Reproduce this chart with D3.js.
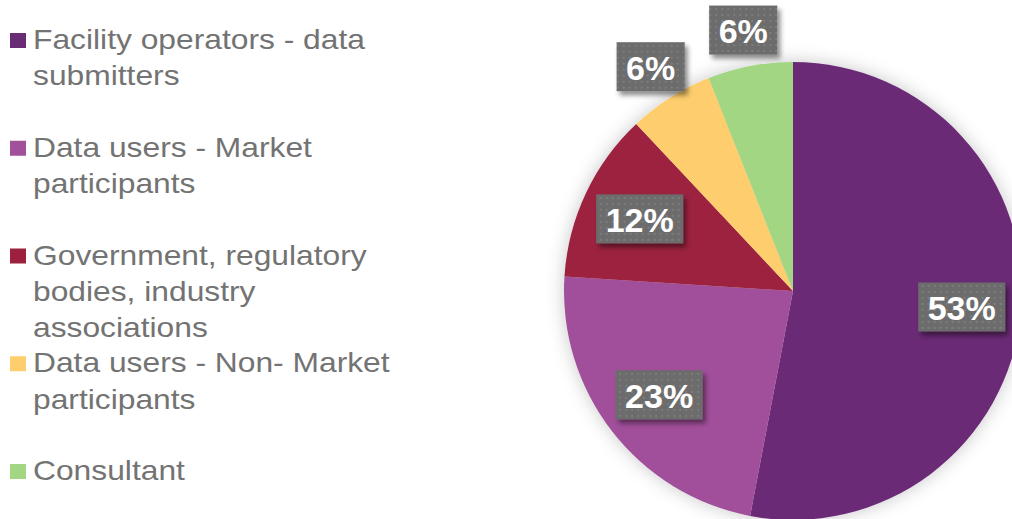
<!DOCTYPE html>
<html>
<head>
<meta charset="utf-8">
<script src="https://cdn.jsdelivr.net/npm/d3@7"></script>
<style>
  body { margin: 0; background: #fff; }
  svg { display: block; }
</style>
</head>
<body>
<div id="chart"></div>
<script>
const categories = [
  'Facility operators - data submitters',
  'Data users - Market participants',
  'Government, regulatory bodies, industry associations',
  'Data users - Non- Market participants',
  'Consultant'
];
// legend text as it wraps in the original
const legendLines = [
  ['Facility operators - data', 'submitters'],
  ['Data users - Market', 'participants'],
  ['Government, regulatory', 'bodies, industry', 'associations'],
  ['Data users - Non- Market', 'participants'],
  ['Consultant']
];
const shares = [53, 23, 12, 6, 6];
const colours = ['#6a2c75', '#a1509a', '#9c2141', '#fdcd6e', '#a2d683'];

const w = 1012, h = 519;
const cx = 793, cy = 291, radius = 229;

const data = categories.map((c, i) => ({ label: c, value: shares[i], lines: legendLines[i] }));

const svg = d3.select('#chart')
  .append('svg')
  .attr('width', w)
  .attr('height', h);

const defs = svg.append('defs');

const glow = defs.append('filter')
  .attr('id', 'glow')
  .attr('x', '-20%').attr('y', '-20%')
  .attr('width', '140%').attr('height', '140%');
glow.append('feDropShadow')
  .attr('dx', 0).attr('dy', 0)
  .attr('stdDeviation', 9)
  .attr('flood-color', '#000')
  .attr('flood-opacity', 0.22);

const boxShadow = defs.append('filter')
  .attr('id', 'boxShadow')
  .attr('x', '-20%').attr('y', '-20%')
  .attr('width', '150%').attr('height', '160%');
boxShadow.append('feDropShadow')
  .attr('dx', 3).attr('dy', 4)
  .attr('stdDeviation', 2.5)
  .attr('flood-color', '#000')
  .attr('flood-opacity', 0.45);

const dots = defs.append('pattern')
  .attr('id', 'dots')
  .attr('patternUnits', 'userSpaceOnUse')
  .attr('width', 6).attr('height', 6);
dots.append('rect')
  .attr('width', 6).attr('height', 6)
  .attr('fill', '#6c6c6c');
dots.append('rect')
  .attr('x', 2).attr('y', 2)
  .attr('width', 2).attr('height', 2)
  .attr('fill', '#7c7c7c');

// pie
const pie = d3.pie()
  .sort(null)
  .value(d => d.value);

const arc = d3.arc()
  .innerRadius(0)
  .outerRadius(radius);

const arcs = pie(data);

const g = svg.append('g')
  .attr('transform', `translate(${cx}, ${cy})`);

g.append('g')
  .attr('filter', 'url(#glow)')
  .selectAll('path')
  .data(arcs)
  .join('path')
  .attr('d', arc)
  .attr('fill', (d, i) => colours[i]);

// data labels: inside for big slices, outside for small ones
const inArc = d3.arc().innerRadius(radius * 0.74).outerRadius(radius * 0.74);
const outArc = d3.arc().innerRadius(radius * 1.16).outerRadius(radius * 1.16);
const fmt = d => d3.format('.0%')(d / 100);

const labels = g.selectAll('g.lbl')
  .data(arcs)
  .join('g')
  .attr('class', 'lbl')
  .attr('transform', d => {
    const p = (d.data.value < 10 ? outArc : inArc).centroid(d);
    return `translate(${p[0]}, ${p[1]})`;
  });

labels.append('text')
  .attr('text-anchor', 'middle')
  .attr('y', 13)
  .style('font-family', '"Liberation Sans", Arial, sans-serif')
  .style('font-weight', 'bold')
  .style('font-size', '34px')
  .style('fill', '#fff')
  .text(d => fmt(d.data.value));

labels.each(function () {
  const node = d3.select(this);
  const bb = node.select('text').node().getBBox();
  node.insert('rect', 'text')
    .attr('x', bb.x - 9.5)
    .attr('y', -24.5)
    .attr('width', bb.width + 19)
    .attr('height', 49)
    .attr('fill', 'url(#dots)')
    .attr('filter', 'url(#boxShadow)');
});

// legend
const slot = 107.75, lineH = 36.3, legendTop = 49;

const legend = svg.append('g')
  .attr('class', 'legend');

const item = legend.selectAll('g')
  .data(data)
  .join('g')
  .attr('transform', (d, i) => `translate(0, ${legendTop + i * slot})`);

item.append('rect')
  .attr('x', 10)
  .attr('y', -16)
  .attr('width', 16)
  .attr('height', 15)
  .attr('fill', (d, i) => colours[i]);

item.append('text')
  .attr('transform', 'translate(33, 0) scale(1.135, 1)')
  .style('font-family', '"Liberation Sans", Arial, sans-serif')
  .style('font-size', '28px')
  .style('fill', '#737373')
  .selectAll('tspan')
  .data(d => d.lines)
  .join('tspan')
  .attr('x', 0)
  .attr('y', (d, i) => i * lineH)
  .text(d => d);
</script>
</body>
</html>
